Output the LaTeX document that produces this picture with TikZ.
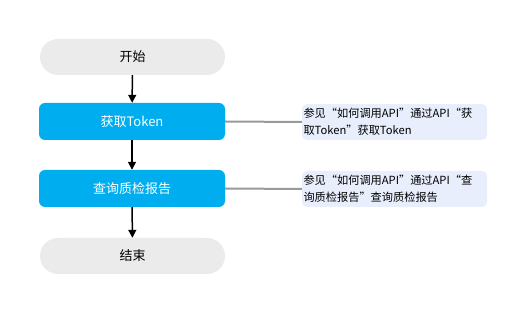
\documentclass[tikz,border=0pt]{standalone}
\usepackage{fontspec}
\setmainfont{Noto Sans CJK SC}
\usetikzlibrary{arrows.meta}
\definecolor{termgray}{HTML}{EBEBEB}
\definecolor{stepblue}{HTML}{00AEEF}
\definecolor{notebg}{HTML}{E8EEFC}
\definecolor{linkgray}{HTML}{999999}
\tikzset{
  term/.style={draw=none, fill=termgray, rounded corners=18pt, minimum width=185pt, minimum height=36pt, inner sep=0pt, font=\fontsize{13}{15}\selectfont},
  stepbox/.style={draw=none, fill=stepblue, rounded corners=6pt, minimum width=186pt, minimum height=37pt, inner sep=0pt, text=white, font=\fontsize{13}{15}\selectfont},
  note/.style={draw=none, fill=notebg, rounded corners=5pt, minimum width=185pt, minimum height=36pt, text width=182pt, inner sep=1.5pt, align=left, font=\fontsize{11.2}{17}\selectfont},
  flow/.style={draw=black, line width=1.5pt, -{Triangle[length=8pt,width=8pt]}},
  link/.style={draw=linkgray, line width=2pt}
}
\begin{document}
\begin{tikzpicture}[x=1pt,y=-1pt]
\useasboundingbox (0,0) rectangle (525,312);
\node[term] (start) at (132.5,57) {开始};
\node[stepbox] (token) at (132,121.5) {获取Token};
\node[stepbox] (query) at (132,188.5) {查询质检报告};
\node[term] (end) at (132.5,256) {结束};
\node[note] (n1) at (394.5,122) {参见“如何调用API”通过API“获\\取Token”获取Token};
\node[note] (n2) at (394.5,189) {参见“如何调用API”通过API“查\\询质检报告”查询质检报告};
\draw[flow] (start) -- (token);
\draw[flow] (token) -- (query);
\draw[flow] (query) -- (end);
\draw[link] (token.east) -- (n1.west);
\draw[link] (query.east) -- (n2.west);
\end{tikzpicture}
\end{document}
